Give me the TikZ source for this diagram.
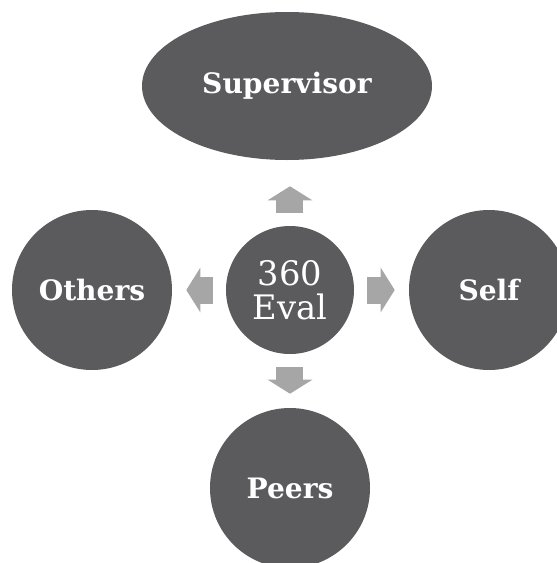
\documentclass[tikz,border=0pt]{standalone}
\usepackage{fontspec}
\setmainfont{DejaVu Serif}
\usepackage{tikz}
\usetikzlibrary{arrows.meta,shapes.geometric,positioning}
\definecolor{discgray}{HTML}{5B5B5D}
\definecolor{arrowgray}{HTML}{A6A6A6}

\begin{document}
\begin{tikzpicture}[
    disc/.style={circle, fill=discgray, minimum size=4cm, inner sep=0pt, text=white, font=\bfseries\fontsize{20}{23}\selectfont},
    hubdisc/.style={circle, fill=discgray, minimum size=3.2cm, inner sep=0pt, text=white, align=center, font=\fontsize{24}{26}\selectfont},
    blockarr/.style={arrowgray, line width=0.675cm, -{Triangle[width=1.1cm, length=0.35cm]}, shorten <=0.325cm, shorten >=0.35cm}
]
\useasboundingbox (-7.25,-6.825) rectangle (6.675,7.25);
\node[hubdisc] (hub) at (0,0) {360\\[-2pt]Eval};
\node[disc, ellipse, minimum width=7.25cm, minimum height=3.7cm] (super) at (-0.075,5.1) {Supervisor};
\node[disc] (others) at (-4.95,0) {Others};
\node[disc] (self) at (4.975,0) {Self};
\node[disc] (peers) at (0,-4.95) {Peers};

\draw[blockarr, shorten >=0.65cm] (hub.north) -- (hub.north |- super.south);
\draw[blockarr] (hub) -- (others);
\draw[blockarr] (hub) -- (self);
\draw[blockarr] (hub) -- (peers);
\end{tikzpicture}
\end{document}
